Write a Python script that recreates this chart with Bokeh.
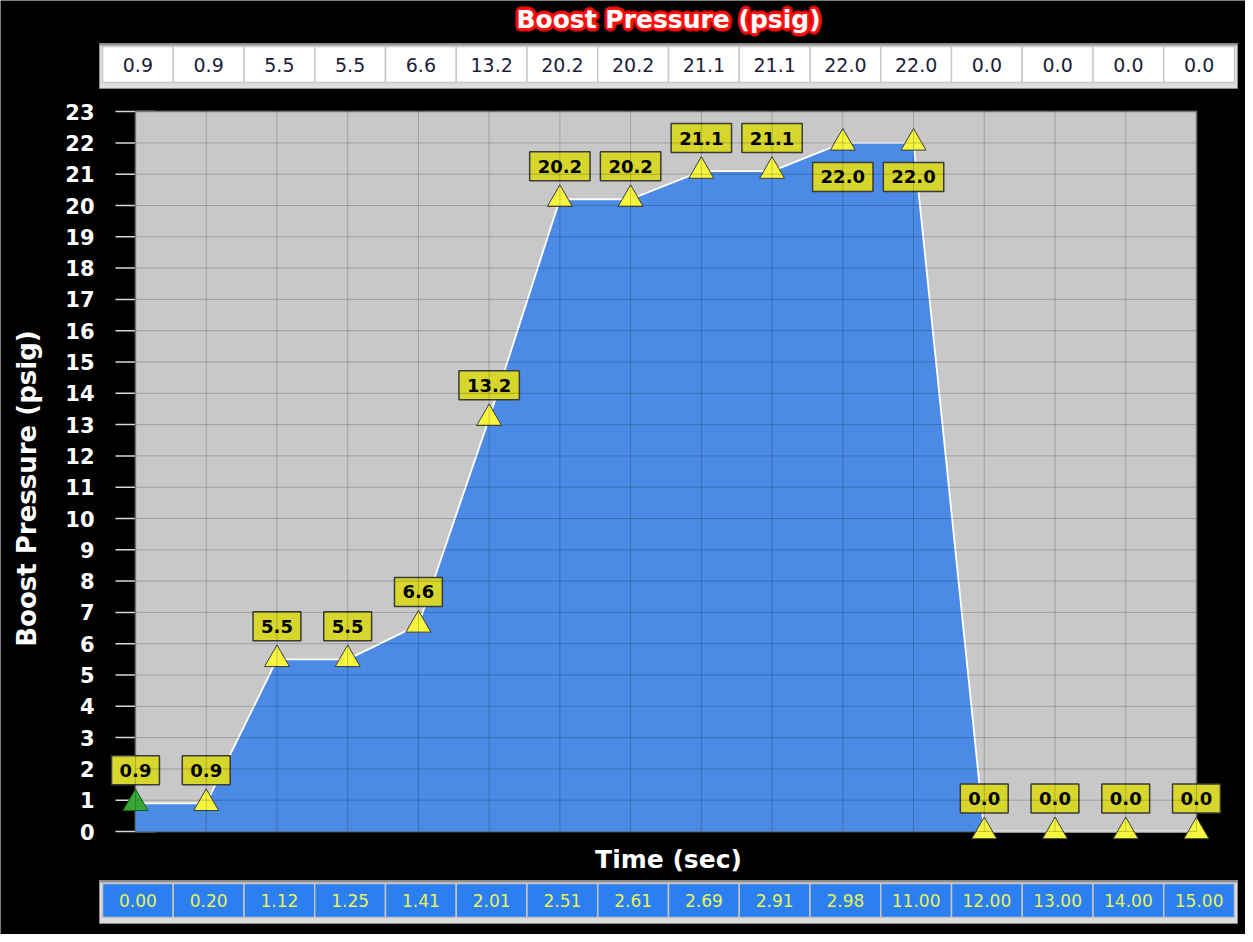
import numpy as np
from bokeh.plotting import figure
from bokeh.models import Range1d, ColumnDataSource
from bokeh.embed import file_html
from bokeh.resources import INLINE
from bokeh.core.properties import value

# ---------------- data ----------------
title_text = "Boost Pressure (psig)"
y_label = "Boost Pressure (psig)"
x_label = "Time (sec)"
time_labels = ["0.00", "0.20", "1.12", "1.25", "1.41", "2.01", "2.51", "2.61",
               "2.69", "2.91", "2.98", "11.00", "12.00", "13.00", "14.00", "15.00"]
boost = [0.9, 0.9, 5.5, 5.5, 6.6, 13.2, 20.2, 20.2, 21.1, 21.1, 22.0, 22.0,
         0.0, 0.0, 0.0, 0.0]
y_ticks = list(range(0, 24))

n = len(boost)
idx = list(range(n))
val_txt = ["%.1f" % v for v in boost]
tick_txt = [str(t) for t in y_ticks]
FONT = value("DejaVu Sans")

# ---------------- geometry (page pixels) ----------------
W, H = 1245, 934
x0_page, pt_px = 143, 70.73        # first category / px per category
y0_page, y_px = 839, 31.3          # value 0 / px per psig
cell_px = 70.75                    # table cell width
table_left = 110                   # page x of first table cell

xr = Range1d((8 - x0_page) / pt_px, (8 + W - x0_page) / pt_px)
yr = Range1d((y0_page - (8 + H)) / y_px, (y0_page - 8) / y_px)

p = figure(width=W, height=H, x_range=xr, y_range=yr, min_border=0,
           x_axis_type=None, y_axis_type=None, toolbar_location=None,
           output_backend="svg", background_fill_color="black",
           border_fill_color="black", outline_line_color=None)
xa0 = -0.5 - (table_left - 8) / cell_px
p.extra_x_ranges = {"tbl": Range1d(xa0, xa0 + W / cell_px)}
p.extra_y_ranges = {"px": Range1d(H, 0)}     # pixels from top of the chart
mid = (n - 1) / 2.0
mid_y = (y_ticks[0] + y_ticks[-1]) / 2.0
TB = dict(x_range_name="tbl", y_range_name="px")


def table(top, bottom, fill, line, txt, txt_color, size):
    p3 = 3.0 / cell_px
    p.quad(left=[-0.5 - p3], right=[n - 0.5 + p3], top=[top - 3], bottom=[bottom + 6],
           fill_color="#dedede", line_color="#8c8c8c", line_width=1, **TB)
    p.quad(left=[-0.5 - p3], right=[n - 0.5 + p3], top=[top - 3], bottom=[top - 1],
           fill_color="#8c8c8c", line_color=None, **TB)
    p.quad(left=[i - 0.5 for i in idx], right=[i + 0.5 for i in idx],
           top=[top] * n, bottom=[bottom] * n,
           fill_color=fill, line_color=line, line_width=1.5, **TB)
    p.text(x=idx, y=[(top + bottom) / 2.0] * n, text=txt, text_font=FONT,
           text_font_size=size, text_color=txt_color, text_align="center",
           text_baseline="middle", **TB)


# ---------------- title with red glow ----------------
ang = np.radians(np.arange(0, 360, 30))
glow = ColumnDataSource(dict(
    x=[mid] * (2 * len(ang)),
    y=[19] * (2 * len(ang)),
    t=[title_text] * (2 * len(ang)),
    dx=list(3.6 * np.cos(ang)) + list(1.8 * np.cos(ang)),
    dy=list(3.6 * np.sin(ang)) + list(1.8 * np.sin(ang)),
    a=[0.5] * len(ang) + [1.0] * len(ang),
))
p.text(x="x", y="y", text="t", x_offset="dx", y_offset="dy", source=glow,
       text_font=FONT, text_font_size="25px", text_font_style="bold",
       text_color="#ff1010", text_alpha="a", text_align="center",
       text_baseline="middle", **TB)
p.text(x=[mid], y=[19], text=[title_text], text_font=FONT, text_font_size="25px",
       text_font_style="bold", text_color="white", text_align="center",
       text_baseline="middle", **TB)

# ---------------- top table (values) ----------------
table(46, 82, "white", "#c8c8c8", val_txt, "#1c1c3a", "19px")

# ---------------- y ticks (under the plot area), tick labels, axis label ----------------
p.scatter(x=[idx[0]] * len(y_ticks), y=y_ticks, marker="dash", size=40,
          line_color="#d8d8d8", line_width=1.5)
p.text(x=[idx[0]] * len(y_ticks), y=y_ticks, text=tick_txt, x_offset=-41,
       text_font=FONT, text_font_size="21px", text_font_style="bold",
       text_color="white", text_align="right", text_baseline="middle")
p.text(x=[idx[0]], y=[mid_y], text=[y_label], angle=np.pi / 2, x_offset=-109,
       y_offset=17, text_font=FONT, text_font_size="26px", text_font_style="bold",
       text_color="white", text_align="center", text_baseline="middle")

# ---------------- plot area ----------------
p.quad(left=[idx[0]], right=[idx[-1]], bottom=[y_ticks[0]], top=[y_ticks[-1]],
       fill_color="#c8c8c8", line_color="#8e8e8e", line_width=1.5)
p.varea(x=idx, y1=[0] * n, y2=boost, fill_color="#4b8be6")
p.line(x=idx, y=boost, line_color="white", line_width=1.8)

mk_fill = ["#36a836"] + ["#f6f63e"] * (n - 1)
mk_line = ["#1d5a1d"] + ["#3c3c3c"] * (n - 1)
p.scatter(x=idx, y=boost, marker="triangle", size=25, fill_color=mk_fill,
          line_color=mk_line, line_width=1)

top_v = max(boost)
offs = [34 if v == top_v else -33 for v in boost]
p.text(x=idx, y=boost, text=val_txt, y_offset=offs, text_font=FONT,
       text_font_size="18px", text_font_style="bold", text_color="black",
       text_align="center", text_baseline="middle",
       background_fill_color="#d6d62c", border_line_color="#3a3a3a",
       border_line_width=1.5, padding=8)

# grid lines on top
p.segment(x0=idx, y0=[y_ticks[0]] * n, x1=idx, y1=[y_ticks[-1]] * n,
          line_color="black", line_alpha=0.2, line_width=1)
p.segment(x0=[idx[0]] * len(y_ticks), y0=y_ticks, x1=[idx[-1]] * len(y_ticks),
          y1=y_ticks, line_color="black", line_alpha=0.2, line_width=1)

# ---------------- x label + bottom table (times) ----------------
p.text(x=[mid], y=[859], text=[x_label], text_font=FONT, text_font_size="25px",
       text_font_style="bold", text_color="white", text_align="center",
       text_baseline="middle", **TB)
table(883, 917, "#2b7ff0", "#c4c4c4", time_labels, "#e8f25a", "17px")

open("out.html", "w").write(file_html(p, INLINE))
